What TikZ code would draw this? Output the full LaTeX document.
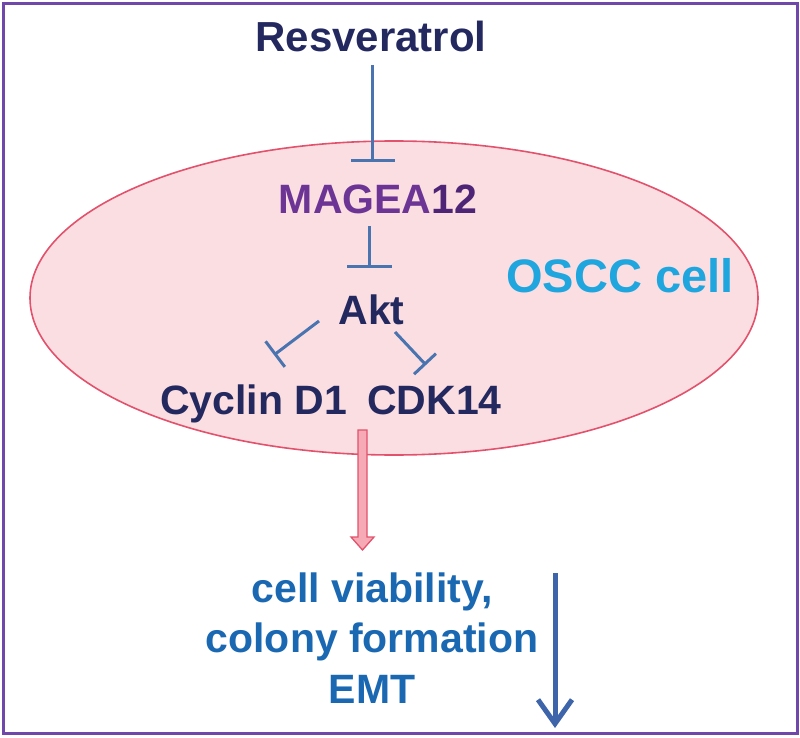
\documentclass[tikz,border=0pt]{standalone}
\usepackage{fontspec}
\setmainfont{Liberation Sans}
\usetikzlibrary{arrows.meta,shapes.geometric}
\definecolor{framepurple}{RGB}{112,72,170}
\definecolor{navy}{RGB}{35,40,95}
\definecolor{magpurple}{RGB}{108,52,148}
\definecolor{magdark}{RGB}{78,36,118}
\definecolor{cellfill}{RGB}{251,222,226}
\definecolor{celledge}{RGB}{226,82,108}
\definecolor{oscc}{RGB}{32,166,222}
\definecolor{inhblue}{RGB}{74,116,176}
\definecolor{outblue}{RGB}{26,104,178}
\definecolor{arrowpink}{RGB}{246,170,182}
\definecolor{downblue}{RGB}{62,100,170}
\tikzset{
  lbl/.style={anchor=base, inner sep=0pt, font=\bfseries\fontsize{41}{50}\selectfont},
  inh/.style={draw=inhblue, line width=3pt},
}
\begin{document}
\begin{tikzpicture}[x=1pt,y=-1pt]
\useasboundingbox (0,0) rectangle (800,738);
\draw[framepurple, line width=3pt] (3,3.5) rectangle (797,733.5);
% cell
\node[ellipse, draw=celledge, fill=cellfill, line width=1.6pt,
      minimum width=728pt, minimum height=314pt, inner sep=0pt] (cell) at (394,298) {};
\node[lbl, text=oscc, font=\bfseries\fontsize{47}{56}\selectfont] (osc) at (620,292) {OSCC cell};
% labels
\node[lbl, text=navy, font=\bfseries\fontsize{42}{50}\selectfont] (res) at (371,52) {Resveratrol};
\node[lbl] (mag) at (378,213) {\textcolor{magpurple}{MAGEA}\textcolor{magdark}{12}};
\node[lbl, text=navy] (akt) at (371.5,324) {Akt};
\node[lbl, text=navy, anchor=base west] (cyc) at (160,414) {Cyclin D1};
\node[lbl, text=navy, anchor=base west] (cdk) at (367,414) {CDK14};
\node[lbl, text=outblue, align=center, font=\bfseries\fontsize{41}{50.5}\selectfont] (out) at (372,703)
  {cell viability,\\colony formation\\EMT};
% inhibition connectors
\coordinate (r1) at (372.5,65);
\coordinate (r2) at (372.5,162);
\coordinate (m1) at (369.5,226);
\coordinate (m2) at (369.5,268);
\coordinate (a1) at (319,321);
\coordinate (a2) at (274,355);
\coordinate (b1) at (395,332);
\coordinate (b2) at (426,365);
\draw[inh, -{Bar[width=44pt]}] (r1) -- (r2);
\draw[inh, -{Bar[width=45pt]}] (m1) -- (m2);
\draw[inh, -{Bar[width=32pt]}] (a1) -- (a2);
\draw[inh, -{Bar[width=30pt]}] (b1) -- (b2);
% pink arrow from cell to outcomes
\draw[celledge, fill=arrowpink, line width=1.3pt, line join=miter]
  (358,430) -- (367,430) -- (367,537) -- (374,537) -- (362.5,550) -- (351,537) -- (358,537) -- cycle;
% blue down arrow
\coordinate (d1) at (555,573);
\coordinate (d2) at (555,728);
\draw[downblue, line width=5pt, -{Straight Barb[length=24pt,width=34pt]}] (d1) -- (d2);
\end{tikzpicture}
\end{document}
